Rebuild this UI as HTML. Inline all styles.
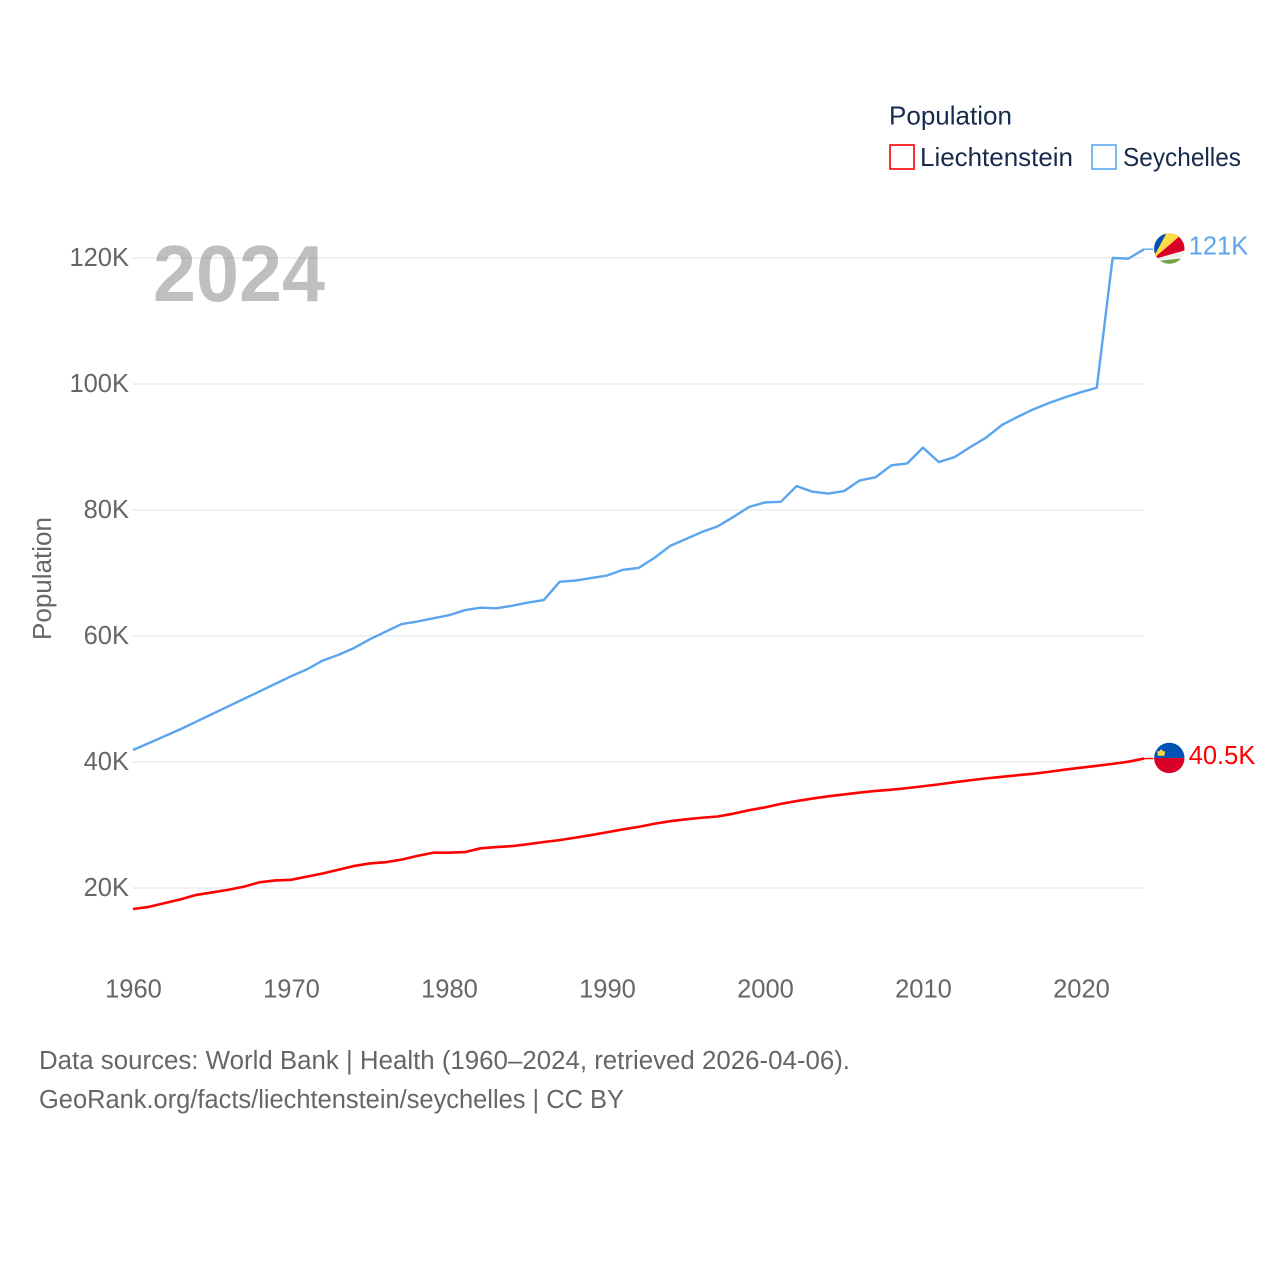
<!DOCTYPE html>
<html lang="en">
<head>
<meta charset="utf-8">
<title>Population: Liechtenstein and Seychelles</title>
<style>
html,body{margin:0;padding:0;background:#fff;}
svg{display:block;font-family:"Liberation Sans",sans-serif;}
</style>
</head>
<body>
<svg id="chart" width="1280" height="1280" viewBox="0 0 1280 1280">
  <rect width="1280" height="1280" fill="#fff"/>
  <g id="grid"></g>
  <g id="yticks"></g>
  <g id="xticks"></g>
  <text x="153" y="301" font-size="80" font-weight="700" fill="#000" fill-opacity="0.25" textLength="172" lengthAdjust="spacingAndGlyphs">2024</text>
  <text transform="translate(51,640) rotate(-90)" font-size="25.5" fill="#666" textLength="123" lengthAdjust="spacingAndGlyphs">Population</text>
  <g id="series"></g>
  <g id="end-labels"></g>
  <g>
    <text x="889" y="124.5" font-size="26" fill="#172b4d" textLength="123" lengthAdjust="spacingAndGlyphs">Population</text>
    <g>
      <rect x="890" y="145" width="24" height="24" fill="#fff" stroke="#ff0000" stroke-width="1.6"/>
      <text x="920" y="166" font-size="26" fill="#172b4d" textLength="153" lengthAdjust="spacingAndGlyphs">Liechtenstein</text>
    </g>
    <g>
      <rect x="1092" y="145" width="24" height="24" fill="#fff" stroke="#5aa5ee" stroke-width="1.6"/>
      <text x="1123" y="166" font-size="26" fill="#172b4d" textLength="118" lengthAdjust="spacingAndGlyphs">Seychelles</text>
    </g>
  </g>
  <text x="39" y="1069" font-size="25.5" fill="#666" textLength="811" lengthAdjust="spacingAndGlyphs">Data sources: World Bank | Health (1960–2024, retrieved 2026-04-06).</text>
  <text x="39" y="1108" font-size="25.5" fill="#666" textLength="585" lengthAdjust="spacingAndGlyphs">GeoRank.org/facts/liechtenstein/seychelles | CC BY</text>
</svg>
<script>
const startYear = 1960;
const xTickYears = [1960, 1970, 1980, 1990, 2000, 2010, 2020];
const yTickValues = [20, 40, 60, 80, 100, 120];
const seychellesValues = [
  41.9, 43.0, 44.1, 45.2, 46.4, 47.6, 48.8, 50.0, 51.2, 52.4,
  53.6, 54.7, 56.1, 57.0, 58.1, 59.5, 60.7, 61.9, 62.3, 62.8,
  63.3, 64.1, 64.5, 64.4, 64.8, 65.3, 65.7, 68.6, 68.8, 69.2,
  69.6, 70.5, 70.8, 72.4, 74.3, 75.4, 76.5, 77.4, 78.9, 80.5,
  81.2, 81.3, 83.8, 82.9, 82.6, 83.0, 84.7, 85.2, 87.1, 87.4,
  89.9, 87.6, 88.4, 90.0, 91.5, 93.5, 94.8, 96.0, 97.0, 97.9,
  98.7, 99.4, 120.0, 119.9, 121.4
];
const liechtensteinValues = [
  16.67, 17.0, 17.6, 18.2, 18.9, 19.3, 19.7, 20.2, 20.9, 21.2,
  21.3, 21.8, 22.3, 22.9, 23.5, 23.9, 24.1, 24.5, 25.1, 25.6,
  25.6, 25.7, 26.3, 26.5, 26.65, 26.95, 27.3, 27.6, 28.0, 28.4,
  28.85, 29.3, 29.7, 30.2, 30.6, 30.9, 31.15, 31.35, 31.8, 32.35,
  32.8, 33.35, 33.8, 34.2, 34.55, 34.85, 35.15, 35.4, 35.6, 35.85,
  36.15, 36.45, 36.8, 37.1, 37.4, 37.65, 37.9, 38.15, 38.45, 38.8,
  39.1, 39.4, 39.7, 40.05, 40.55
];

const SVG_NS = 'http://www.w3.org/2000/svg';
function xScale(year) { return 133 + (year - startYear) * 15.8; }
function yScale(k) { return 1014 - k * 6.3; }
function make(tag, attrs, parent) {
  const el = document.createElementNS(SVG_NS, tag);
  for (const key in attrs) el.setAttribute(key, attrs[key]);
  parent.appendChild(el);
  return el;
}
const gridGroup = document.getElementById('grid');
const yGroup = document.getElementById('yticks');
const xGroup = document.getElementById('xticks');
const seriesGroup = document.getElementById('series');
const endGroup = document.getElementById('end-labels');

yTickValues.forEach(function (value) {
  const line = make('line', {x1: 133, x2: 1144, y1: yScale(value), y2: yScale(value), stroke: '#ececec', 'stroke-width': 1.6}, gridGroup);
  
  
  const label = make('text', {x: 129, y: yScale(value) + 8, 'text-anchor': 'end', 'font-size': 25.5, fill: '#666'}, yGroup);
  label.textContent = value + 'K';
  
  
});

xTickYears.forEach(function (year) {
  const label = make('text', {x: xScale(year) + 0.5, y: 997.5, 'text-anchor': 'middle', 'font-size': 25.5, fill: '#666'}, xGroup);
  label.textContent = String(year);
  
  
});

function drawSeries(values, color, key) {
  const pts = values.map(function (v, i) { return xScale(startYear + i).toFixed(2) + ',' + yScale(v).toFixed(2); }).join(' ');
  const line = make('polyline', {points: pts, fill: 'none', stroke: color, 'stroke-width': key === 'liechtenstein' ? 2.6 : 2.4, 'stroke-linejoin': 'round'}, seriesGroup);
  
  

  const last = values[values.length - 1];
  const lastX = xScale(startYear + values.length - 1);
  const lastY = yScale(last);
  const leader = make('line', {x1: lastX, x2: lastX + 9, y1: lastY, y2: lastY, stroke: color, 'stroke-width': 1.4}, endGroup);
  
  

  const flag = make('g', {transform: 'translate(1169.3,' + (lastY - 0.6).toFixed(2) + ')'}, endGroup);
  
  
  const clipId = 'clip-' + key;
  const defs = make('clipPath', {id: clipId}, flag);
  make('circle', {r: 15.2}, defs);
  const inner = make('g', {'clip-path': 'url(#' + clipId + ')'}, flag);
  if (key === 'seychelles') {
    make('rect', {x: -17, y: -17, width: 34, height: 34, fill: '#f0f0f0'}, inner);
    make('polygon', {points: '-17,13 18,9.2 18,18 -17,18', fill: '#6da544'}, inner);
    make('polygon', {points: '-17,11 18,1.1 18,-18 -17,-18', fill: '#d80027'}, inner);
    make('polygon', {points: '-17,11 11,-13 11,-18 -17,-18', fill: '#ffda44'}, inner);
    make('polygon', {points: '-17,11 -2,-17 -17,-18', fill: '#0052b4'}, inner);
  } else {
    make('rect', {x: -17, y: -17, width: 34, height: 17, fill: '#0052b4'}, inner);
    make('rect', {x: -17, y: 0, width: 34, height: 17, fill: '#d80027'}, inner);
    make('polygon', {points: '-11.5,-2.2 -4.8,-2.2 -4.3,-7 -6,-6.4 -8.1,-8.8 -10.2,-6.4 -12,-7', fill: '#ffda44'}, inner);
  }

  const printed = make('text', {x: 1188.7, y: lastY + 5.5, 'font-size': 25.5, fill: color}, endGroup);
  printed.textContent = last.toPrecision(3).replace(/\.0+$/, '') + 'K';
  
  
}

drawSeries(seychellesValues, '#5aa5ee', 'seychelles');
drawSeries(liechtensteinValues, '#ff0000', 'liechtenstein');
</script>
</body>
</html>
